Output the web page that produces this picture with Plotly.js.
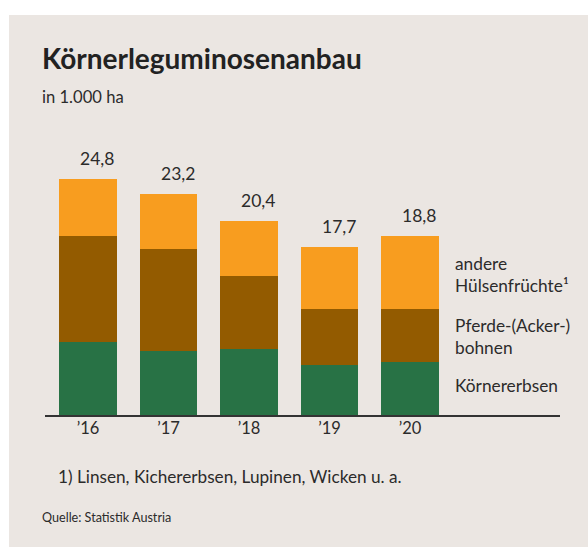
<!DOCTYPE html>
<html>
<head>
<meta charset="utf-8">
<script src="https://cdn.plot.ly/plotly-3.0.1.min.js"></script>
<style>
html,body{margin:0;padding:0;background:#ffffff;width:588px;height:547px;overflow:hidden;}
#chart{position:absolute;left:9px;top:15px;width:579px;height:532px;}
</style>
</head>
<body>
<div id="chart"></div>
<script>
const years = ["’16", "’17", "’18", "’19", "’20"];
const koernererbsen = [7.7, 6.7, 6.9, 5.3, 5.6];
const pferdebohnen = [11.1, 10.7, 7.7, 5.8, 5.5];
const andere = [6.0, 5.8, 5.8, 6.6, 7.7];
const totals = [24.8, 23.2, 20.4, 17.7, 18.8];
const totalLabels = ["24,8", "23,2", "20,4", "17,7", "18,8"];
const seriesNames = ["Körnererbsen", "Pferde-(Acker-)<br>bohnen", "andere<br>Hülsenfrüchte¹"];

const FONT = "Lato, 'Open Sans', sans-serif";
const TXT = "#2b2b2b";
const BG = "#ebe6e2";

const traces = [
  {type: "bar", x: years, y: koernererbsen, marker: {color: "#287245"}, hoverinfo: "skip"},
  {type: "bar", x: years, y: pferdebohnen, marker: {color: "#935b00"}, hoverinfo: "skip"},
  {type: "bar", x: years, y: andere, marker: {color: "#f89d1f"}, hoverinfo: "skip"}
];

const ann = [];
years.forEach((c, i) => {
  ann.push({x: c, y: totals[i], xref: "x", yref: "y", text: totalLabels[i], showarrow: false,
    xanchor: "center", yanchor: "bottom", xshift: 9, yshift: 8,
    font: {family: FONT, size: 17.5, color: TXT}});
});
const legendY = [0.1167, 0.3054, 0.5486];
seriesNames.forEach((n, i) => {
  ann.push({x: 0.792, y: legendY[i], xref: "paper", yref: "paper", text: n, showarrow: false,
    xanchor: "left", yanchor: "middle", align: "left",
    font: {family: FONT, size: 17.3, color: TXT}});
});
ann.push({x: -0.0097, y: 1.389, xref: "paper", yref: "paper", text: "<b>Körnerleguminosenanbau</b>",
  showarrow: false, xanchor: "left", yanchor: "middle", font: {family: FONT, size: 28, color: "#222"}});
ann.push({x: -0.0097, y: 1.237, xref: "paper", yref: "paper", text: "in 1.000 ha",
  showarrow: false, xanchor: "left", yanchor: "middle", font: {family: FONT, size: 16.6, color: TXT}});
ann.push({x: 0.0214, y: -0.241, xref: "paper", yref: "paper", text: "1) Linsen, Kichererbsen, Lupinen, Wicken u. a.",
  showarrow: false, xanchor: "left", yanchor: "middle", font: {family: FONT, size: 17.2, color: TXT}});
ann.push({x: -0.0097, y: -0.397, xref: "paper", yref: "paper", text: "Quelle: Statistik Austria",
  showarrow: false, xanchor: "left", yanchor: "middle", font: {family: FONT, size: 12.6, color: TXT}});

const layout = {
  width: 579, height: 532,
  margin: {l: 36, r: 28, t: 143, b: 132},
  paper_bgcolor: BG, plot_bgcolor: BG,
  barmode: "stack", bargap: 0.28,
  showlegend: false,
  xaxis: {type: "category", range: [-0.534, 5.863], showline: true, linecolor: "#333", linewidth: 2,
    ticks: "", showgrid: false, zeroline: false, fixedrange: true, ticklabelstandoff: -3,
    tickfont: {family: FONT, size: 16.5, color: TXT}},
  yaxis: {range: [0, 27], visible: false, showgrid: false, zeroline: false, fixedrange: true},
  annotations: ann,
  font: {family: FONT, color: TXT}
};

Plotly.newPlot("chart", traces, layout, {displayModeBar: false, staticPlot: true});
</script>
</body>
</html>
